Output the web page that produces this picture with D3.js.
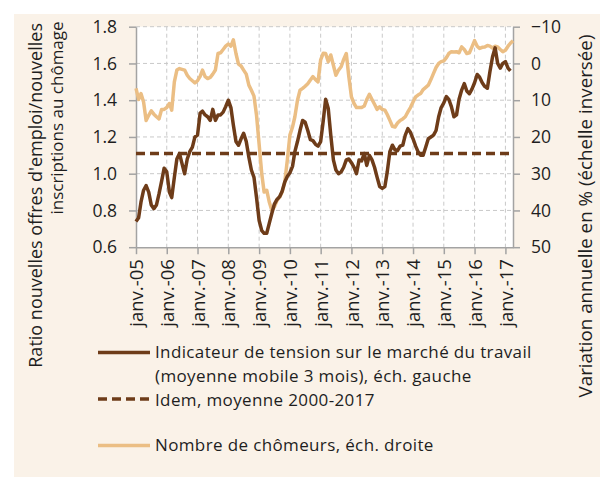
<!DOCTYPE html>
<html><head><meta charset="utf-8">
<script src="https://cdn.jsdelivr.net/npm/d3@7"></script>
<style>
body{margin:0;background:#fff}
text{font-family:"Open Sans",sans-serif;fill:#1e1e1e}
</style>
</head><body>
<svg id="c" width="600" height="477"></svg>
<script>
// ---- data (monthly, starting January 2005) ----
const startYear = 2005;
const tension = [
0.74,0.76,0.845,0.91,0.935,0.90,0.83,0.81,0.83,0.89,0.96,1.03,
1.01,0.90,0.87,0.98,1.08,1.11,1.055,1.00,1.08,1.12,1.145,1.20,
1.21,1.33,1.34,1.32,1.31,1.29,1.35,1.29,1.32,1.32,1.335,1.365,
1.40,1.36,1.265,1.175,1.155,1.19,1.22,1.175,1.09,1.02,0.98,0.87,
0.745,0.69,0.676,0.676,0.73,0.785,0.835,0.86,0.875,0.905,0.955,0.985,
1.005,1.04,1.12,1.175,1.235,1.29,1.28,1.235,1.185,1.18,1.16,1.15,
1.175,1.29,1.405,1.355,1.21,1.075,1.02,1.00,1.01,1.035,1.075,1.08,
1.06,1.035,1.00,1.075,1.07,1.11,1.045,1.10,1.075,1.035,0.98,0.93,
0.92,0.93,1.01,1.12,1.155,1.13,1.125,1.15,1.155,1.21,1.245,1.225,
1.19,1.15,1.12,1.10,1.10,1.145,1.19,1.20,1.21,1.235,1.31,1.36,
1.385,1.42,1.405,1.365,1.31,1.32,1.405,1.455,1.49,1.45,1.435,1.46,
1.495,1.54,1.525,1.495,1.475,1.465,1.555,1.635,1.685,1.60,1.575,1.60,
1.61,1.575,1.56
];
const chomeurs = [
6.8,9.8,8.2,10.5,15.5,14.1,12.9,13.8,14.5,15.1,12.5,12.5,
12.0,10.9,12.7,5.0,1.8,1.4,1.6,1.8,3.2,4.1,4.7,5.3,
4.7,3.5,1.8,3.6,4.1,3.8,2.9,1.8,-2.7,-2.9,-3.8,-4.7,
-5.3,-4.7,-6.4,-2.7,0.2,0.7,1.8,2.9,5.9,7.3,8.9,14.1,
22,30,35,34.5,37.7,40,39,37.3,36.4,35,32.3,26.4,
19.5,17.3,14.5,10,7.3,6.8,6.2,5.5,4.5,3.6,4.4,5.0,
-1,-2.8,-2.7,-0.5,-2.3,0.5,3.2,1.8,0.9,-1.1,-2.7,3.6,
9.1,10.9,12,12,12,11.6,9.8,8.4,9.8,11.1,12.5,11.8,
12.5,12.7,13.9,15.5,17.1,17.3,16.2,15.5,15.1,14.5,13.2,12.0,
10.5,9.1,8.6,8.2,7.1,6.5,5.9,4.4,2.7,1.1,0,-0.5,
-0.7,-1.6,-2.7,-3.2,-3.1,-3.2,-2.9,-4.5,-3.8,-2.7,-2.9,-4.5,
-6.2,-4.7,-4.1,-4.4,-4.5,-4.9,-4.7,-4.2,-4.7,-4.5,-3.8,-3.2,
-3.6,-4.7,-5.5,-6.2
];
const moyenne2000_2017 = 1.11;
const leftTicks = [0.6,0.8,1.0,1.2,1.4,1.6,1.8];
const rightTicks = [-10,0,10,20,30,40,50];
const xTickLabels = ["janv.-05","janv.-06","janv.-07","janv.-08","janv.-09","janv.-10","janv.-11","janv.-12","janv.-13","janv.-14","janv.-15","janv.-16","janv.-17"];
const leftTitle = ["Ratio nouvelles offres d'emploi/nouvelles","inscriptions au chômage"];
const rightTitle = "Variation annuelle en % (échelle inversée)";
const legendItems = [
  {lines:["Indicateur de tension sur le marché du travail","(moyenne mobile 3 mois), éch. gauche"], key:"dark"},
  {lines:["Idem, moyenne 2000-2017"], key:"dash"},
  {lines:["Nombre de chômeurs, éch. droite"], key:"light"}
];

// ---- styles ----
const DARK = "#6e3c19", LIGHT = "#ebbe84", BG = "#faf2e8", AXIS = "#a3a3a3", GRID = "#c9c9c9";

const svg = d3.select("#c");
svg.append("rect").attr("x",14).attr("y",14).attr("width",586).attr("height",463).attr("fill",BG);

const L = 136, R = 513, T = 26.7, B = 247.2;
svg.append("rect").attr("x",L).attr("y",T).attr("width",R-L).attr("height",B-T).attr("fill","#fff");

const dates = tension.map((_,i)=>d3.timeMonth.offset(new Date(startYear,0,1), i));
const dates2 = chomeurs.map((_,i)=>d3.timeMonth.offset(new Date(startYear,0,1), i));

const x = d3.scaleTime().domain([new Date(2005,0,1), new Date(2017,3,1)]).range([L,R]);
const yL = d3.scaleLinear().domain([0.6,1.8]).range([B,T]);
const yR = d3.scaleLinear().domain([-10,50]).range([T,B]);

const xTicks = d3.range(13).map(i=>new Date(2005+i,0,1));

// grid
const g = svg.append("g");
g.selectAll(".hg").data(leftTicks.slice(1)).join("line")
  .attr("x1",L).attr("x2",R).attr("y1",d=>yL(d)).attr("y2",d=>yL(d))
  .attr("stroke",GRID).attr("stroke-width",1).attr("stroke-dasharray","4,3");
g.selectAll(".vg").data(xTicks.slice(1)).join("line")
  .attr("x1",d=>x(d)).attr("x2",d=>x(d)).attr("y1",T).attr("y2",B)
  .attr("stroke",GRID).attr("stroke-width",1).attr("stroke-dasharray","4,3");

// axes
function styleAxis(sel){
  sel.select(".domain").attr("stroke",AXIS).attr("stroke-width",1.5);
  sel.selectAll(".tick line").attr("stroke",AXIS).attr("stroke-width",1.5);
  sel.selectAll("text").attr("fill","#1e1e1e").style("font-family",'"Open Sans",sans-serif');
}
const ax = svg.append("g").attr("transform",`translate(0,${B})`)
  .call(d3.axisBottom(x).tickValues(xTicks).tickSize(7).tickSizeOuter(0).tickFormat((d,i)=>xTickLabels[i]));
ax.selectAll("text").attr("transform","rotate(-90)").attr("x",-12).attr("y",0).attr("dy","0.36em")
  .attr("text-anchor","end").style("font-size","18.5px");
styleAxis(ax);

const al = svg.append("g").attr("transform",`translate(${L},0)`)
  .call(d3.axisLeft(yL).tickValues(leftTicks).tickSize(7).tickPadding(12).tickSizeOuter(0).tickFormat(d3.format(".1f")));
al.selectAll("text").style("font-size","17.5px");
styleAxis(al);

const ar = svg.append("g").attr("transform",`translate(${R},0)`)
  .call(d3.axisRight(yR).tickValues(rightTicks).tickSize(7).tickPadding(11).tickSizeOuter(0));
ar.selectAll("text").style("font-size","17.5px");
styleAxis(ar);

// series
const lineL = d3.line().x((d,i)=>x(dates[i])).y(d=>yL(d));
const lineR = d3.line().x((d,i)=>x(dates2[i])).y(d=>yR(d));
svg.append("path").datum(chomeurs).attr("d",lineR).attr("fill","none")
  .attr("stroke",LIGHT).attr("stroke-width",3.5).attr("stroke-linejoin","round");
svg.append("line").attr("x1",L).attr("x2",R).attr("y1",yL(moyenne2000_2017)).attr("y2",yL(moyenne2000_2017))
  .attr("stroke",DARK).attr("stroke-width",3.5).attr("stroke-dasharray","9,5");
svg.append("path").datum(tension).attr("d",lineL).attr("fill","none")
  .attr("stroke",DARK).attr("stroke-width",3.5).attr("stroke-linejoin","round");

// axis titles
svg.append("text").attr("transform","translate(36,23) rotate(-90)").attr("text-anchor","end")
  .attr("dy","0.35em").style("font-size","18px").text(leftTitle[0]);
svg.append("text").attr("transform","translate(57,118) rotate(-90)").attr("text-anchor","middle")
  .attr("dy","0.35em").style("font-size","17px").text(leftTitle[1]);
svg.append("text").attr("transform","translate(585,216) rotate(-90)").attr("text-anchor","middle")
  .attr("dy","0.35em").style("font-size","18.8px").text(rightTitle);

// legend
const legY = [352.5, 400.5, 445.5];
const lineH = 24;
legendItems.forEach((it,k)=>{
  const y0 = legY[k];
  const ly = it.key==="dash" ? 399 : y0;
  const ln = svg.append("line").attr("x1",98).attr("x2",150).attr("y1",ly).attr("y2",ly)
    .attr("stroke-width",3.5);
  if(it.key==="dark") ln.attr("stroke",DARK);
  if(it.key==="dash") ln.attr("stroke",DARK).attr("stroke-dasharray","9,5");
  if(it.key==="light") ln.attr("stroke",LIGHT);
  it.lines.forEach((t,j)=>{
    svg.append("text").attr("x",155).attr("y",y0+j*lineH).attr("dy","0.35em")
      .style("font-size","17px").style("letter-spacing","0.37px").text(t);
  });
});
</script>
</body></html>
